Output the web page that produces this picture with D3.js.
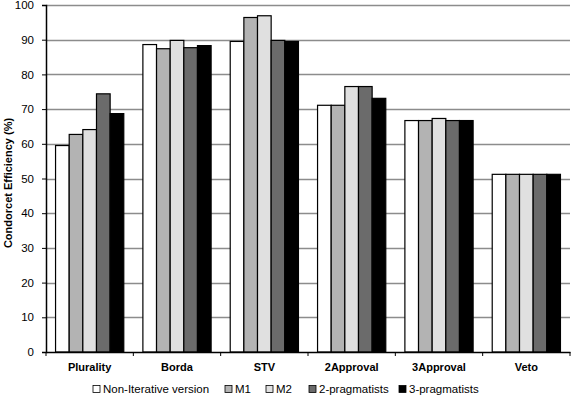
<!DOCTYPE html>
<html>
<head>
<meta charset="utf-8">
<script src="https://cdn.jsdelivr.net/npm/d3@7"></script>
<style>
  body { margin: 0; background: #fff; }
  svg text { font-family: "Liberation Sans", Arial, sans-serif; }
</style>
</head>
<body>
<div class="graph"></div>
<script>
// data
var methods = ['Plurality', 'Borda', 'STV', '2Approval', '3Approval', 'Veto'];
var versions = ['Non-Iterative version', 'M1', 'M2', '2-pragmatists', '3-pragmatists'];
var nonIterative = [59.5, 88.6, 89.5, 71.1, 66.7, 51.2];
var m1 = [62.7, 87.4, 96.4, 71.1, 66.7, 51.2];
var m2 = [64.1, 89.8, 96.9, 76.5, 67.3, 51.2];
var prag2 = [74.4, 87.7, 89.8, 76.5, 66.7, 51.2];
var prag3 = [68.7, 88.3, 89.5, 73.1, 66.7, 51.2];
var yTicks = [0, 10, 20, 30, 40, 50, 60, 70, 80, 90, 100];

var series = [nonIterative, m1, m2, prag2, prag3];
var colors = ['#ffffff', '#b3b3b3', '#e0e0e0', '#6b6b6b', '#000000'];

var w = 572, h = 396;
var svg = d3.select('div.graph').append('svg')
    .attr('width', w).attr('height', h);

// plot area
var m = {top: 5, right: 2, bottom: 44, left: 46};
var pw = w - m.left - m.right, ph = h - m.top - m.bottom;
var plt = svg.append('g').attr('transform', 'translate(' + [m.left, m.top] + ')');

var x = d3.scaleBand().domain(methods).range([0, pw]);
var xIn = d3.scaleBand().domain(d3.range(versions.length))
    .range([0, x.bandwidth()]).paddingInner(0).paddingOuter(0.7);
var y = d3.scaleLinear().domain([0, 100]).range([ph, 0]);

// gridlines
plt.selectAll('.grid').data(yTicks.slice(1)).enter().append('line')
    .attr('x1', 0).attr('x2', pw)
    .attr('y1', function(d){ return Math.round(y(d)) + 0.5; })
    .attr('y2', function(d){ return Math.round(y(d)) + 0.5; })
    .attr('stroke', '#8c8c8c').attr('stroke-width', 1.5);

// bars
var group = plt.selectAll('.grp').data(methods).enter().append('g')
    .attr('transform', function(d){ return 'translate(' + x(d) + ',0)'; });
group.selectAll('rect')
    .data(function(d, i){ return series.map(function(s, k){ return {k: k, v: s[i]}; }); })
    .enter().append('rect')
    .attr('x', function(d){ return xIn(d.k); })
    .attr('width', xIn.bandwidth())
    .attr('y', function(d){ return y(d.v); })
    .attr('height', function(d){ return y(0) - y(d.v); })
    .attr('fill', function(d){ return colors[d.k]; })
    .attr('stroke', '#000').attr('stroke-width', 1.2);

// y axis
var yAxis = d3.axisLeft(y).tickValues(yTicks).tickSize(4).tickPadding(8);
var yG = plt.append('g').call(yAxis);
yG.selectAll('text').attr('font-size', 11.5).attr('fill', '#000')
    .style('font-family', '"Liberation Sans", Arial, sans-serif');
yG.select('.domain').attr('stroke', '#000').attr('stroke-width', 1.5);

// x axis
var xAxis = d3.axisBottom(x).tickSize(0).tickPadding(11);
var xG = plt.append('g').attr('transform', 'translate(0,' + ph + ')').call(xAxis);
xG.select('.domain').attr('stroke', '#000').attr('stroke-width', 1.5);
xG.selectAll('text').attr('font-size', 11).attr('font-weight', 'bold').attr('fill', '#000')
    .style('font-family', '"Liberation Sans", Arial, sans-serif');
xG.selectAll('.sep').data(methods.concat(['end'])).enter().append('line')
    .attr('x1', function(d, i){ return i * x.bandwidth(); })
    .attr('x2', function(d, i){ return i * x.bandwidth(); })
    .attr('y1', 0).attr('y2', 4).attr('stroke', '#000');

// y title
svg.append('text')
    .attr('transform', 'translate(12,183) rotate(-90)')
    .attr('text-anchor', 'middle')
    .attr('font-size', 11).attr('font-weight', 'bold')
    .text('Condorcet Efficiency (%)');

// legend
var legX = [93, 225, 266, 309, 399];
var leg = svg.selectAll('.leg').data(versions).enter().append('g')
    .attr('transform', function(d, i){ return 'translate(' + legX[i] + ',385.5)'; });
leg.append('rect').attr('width', 7).attr('height', 7)
    .attr('fill', function(d, i){ return colors[i]; })
    .attr('stroke', '#000').attr('stroke-width', 0.8);
leg.append('text').attr('x', 10).attr('y', 7.5)
    .attr('font-size', 11.5).text(function(d){ return d; });
</script>
</body>
</html>
